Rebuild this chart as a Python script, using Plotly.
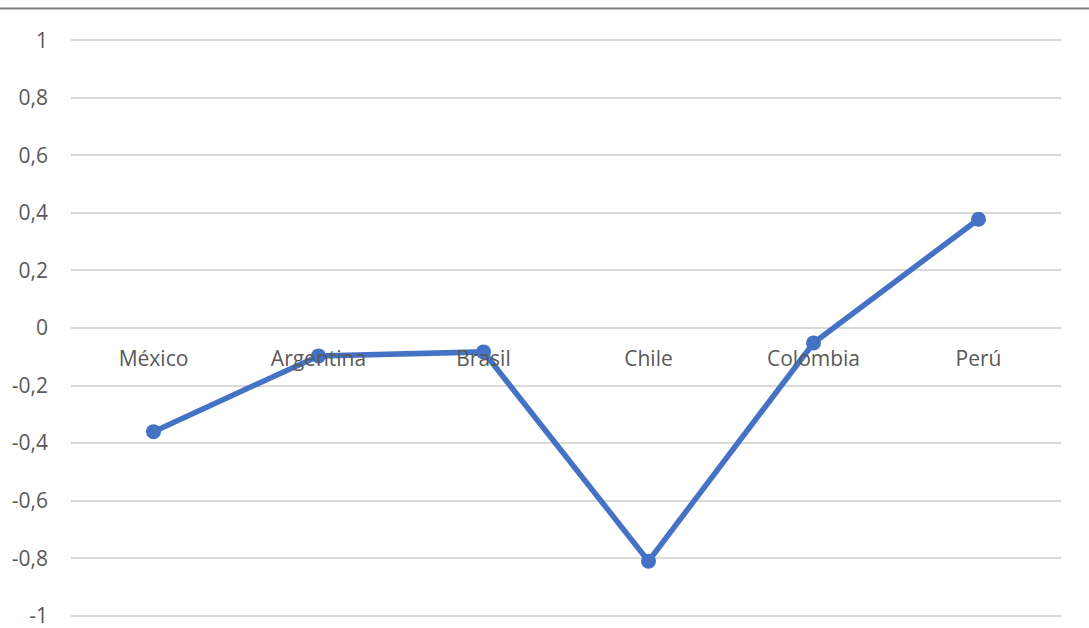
import plotly.graph_objects as go

categories = ["México", "Argentina", "Brasil", "Chile", "Colombia", "Perú"]
values = [-0.36, -0.097, -0.083, -0.81, -0.052, 0.378]
y_tick_vals = [1, 0.8, 0.6, 0.4, 0.2, 0, -0.2, -0.4, -0.6, -0.8, -1]
y_tick_text = ["1", "0,8", "0,6", "0,4", "0,2", "0", "-0,2", "-0,4", "-0,6", "-0,8", "-1"]

W, H = 1089, 628
ml, mr, mt, mb = 71, 28, 39, 11

fig = go.Figure()
fig.add_trace(go.Scatter(
    x=categories, y=values, mode="lines+markers",
    line=dict(color="#4472C4", width=5.5),
    marker=dict(color="#4472C4", size=15),
    showlegend=False,
))

fig.update_layout(
    width=W, height=H,
    margin=dict(l=ml, r=mr, t=mt, b=mb, autoexpand=False),
    paper_bgcolor="white", plot_bgcolor="white",
    font=dict(family="Open Sans", size=21, color="#595959"),
    xaxis=dict(
        type="category", anchor="free", position=0.5,
        range=[-0.5, len(categories) - 0.5],
        showgrid=False, zeroline=False, showline=False,
        ticks="", ticklabelstandoff=16, automargin=False,
        tickfont=dict(size=21, color="#595959"),
    ),
    yaxis=dict(
        range=[-1.004, 1.004], tickvals=y_tick_vals, ticktext=y_tick_text,
        showgrid=True, gridcolor="#d9d9d9", gridwidth=1.5,
        zeroline=False, showline=False, ticks="",
        ticklabelstandoff=22, automargin=False,
        ticklabeloverflow="allow",
        tickfont=dict(size=21, color="#595959"),
    ),
    shapes=[dict(
        type="line", xref="paper", yref="paper",
        x0=-ml / (W - ml - mr), x1=1 + mr / (W - ml - mr),
        y0=1 + (mt - 8.5) / (H - mt - mb), y1=1 + (mt - 8.5) / (H - mt - mb),
        line=dict(color="#7f7f7f", width=2),
    )],
)

fig.write_html(
    "out.html",
    config={"displayModeBar": False},
    post_script="document.body.style.margin='0';document.body.style.overflow='hidden';",
)
